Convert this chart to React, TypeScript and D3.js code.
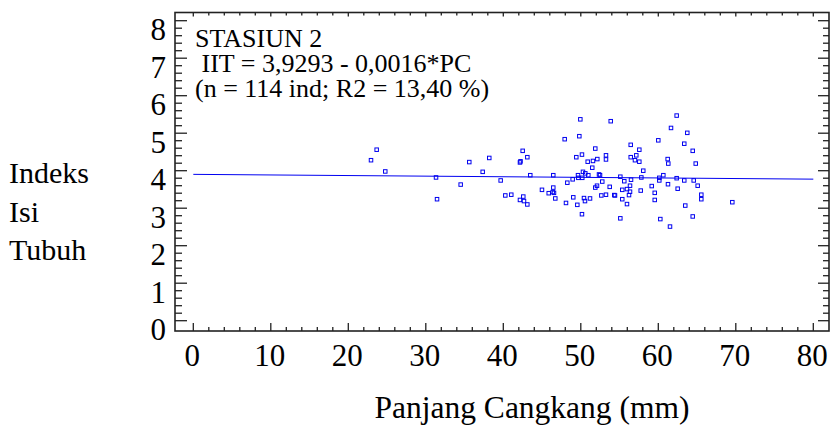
import React from "react";
import * as d3 from "d3";

// Data
const pcValues: number[] = [
  23.66, 22.93, 24.77, 35.61, 31.32, 34.5, 31.45, 38.19, 37.34, 39.66,
  42.5, 43.1, 42.15, 42.22, 43.48, 46.45, 40.26, 41.03, 42.15, 42.58,
  42.67, 43.1, 44.99, 45.86, 46.45, 46.37, 46.54, 46.71, 47.92, 48.26,
  48.09, 49.94, 53.86, 49.81, 51.87, 50.15, 49.42, 50.89, 51.57, 52.13,
  53.25, 53.25, 51.48, 50.28, 50.58, 49.64, 50.19, 49.68, 50.97, 52.35,
  52.48, 48.95, 52.77, 51.87, 52.09, 53.73, 49.03, 49.55, 50.41, 50.54,
  51.19, 52.65, 53.25, 54.32, 54.41, 50.15, 55.1, 55.61, 56.35, 56.48,
  55.35, 55.96, 56.35, 56.22, 55.35, 55.96, 55.1, 56.44, 57.55, 56.44,
  57.16, 56.99, 57.55, 58.06, 57.81, 57.73, 59.15, 59.54, 59.54, 60.0,
  60.13, 60.13, 60.65, 61.21, 61.29, 61.25, 62.37, 61.64, 63.74, 63.35,
  64.44, 64.83, 62.37, 63.35, 64.57, 65.08, 62.5, 65.55, 65.55, 63.48,
  64.44, 60.26, 61.51, 69.55,
];
const iitValues: number[] = [
  4.56, 4.28, 3.98, 4.23, 3.82, 3.63, 3.24, 4.34, 3.97, 3.74,
  4.53, 4.36, 4.22, 4.25, 3.88, 3.88, 3.34, 3.36, 3.22, 3.31,
  3.19, 3.1, 3.49, 3.4, 3.55, 3.43, 3.41, 3.26, 4.84, 3.68,
  3.14, 5.37, 5.32, 4.92, 4.59, 4.43, 4.36, 4.24, 4.26, 4.31,
  4.41, 4.3, 4.08, 3.97, 3.93, 3.88, 3.81, 3.81, 3.88, 3.9,
  3.88, 3.77, 3.71, 3.55, 3.6, 3.57, 3.29, 3.09, 3.27, 3.19,
  3.26, 3.34, 3.36, 3.35, 3.34, 2.84, 3.84, 3.72, 3.6, 3.76,
  3.49, 3.51, 3.44, 3.35, 3.24, 3.11, 2.73, 4.69, 4.56, 4.36,
  4.41, 4.28, 4.24, 4.0, 3.82, 3.47, 3.59, 3.41, 3.22, 4.81,
  3.81, 3.74, 3.88, 4.31, 4.19, 3.64, 5.47, 5.14, 5.01, 4.72,
  4.53, 4.19, 3.8, 3.74, 3.74, 3.6, 3.52, 3.36, 3.24, 3.07,
  2.78, 2.71, 2.51, 3.16,
];
const fitX: number[] = [0, 80];
const fitY: number[] = [3.9293, 3.8013];
const xTicks: number[] = [0, 10, 20, 30, 40, 50, 60, 70, 80];
const yTicks: number[] = [0, 1, 2, 3, 4, 5, 6, 7, 8];
const annotation: string[] = [
  "STASIUN 2",
  " IIT = 3,9293 - 0,0016*PC",
  "(n = 114 ind; R2 = 13,40 %)",
];
const yTitle: string[] = ["Indeks", "Isi", "Tubuh"];
const xTitle = "Panjang Cangkang (mm)";

const W = 830;
const H = 434;
const FONT = "'Liberation Serif', 'Times New Roman', serif";

export default function App() {
  const x = d3.scaleLinear().domain([0, 80]).range([193.3, 813.3]);
  const y = d3.scaleLinear().domain([0, 8]).range([320.7, 20.7]);
  const frame = { left: 175, right: 829, top: 12.5, bottom: 331 };

  const xMinor = d3.range(0, 80.001, 2);
  const yMinor = d3.range(0, 8.001, 0.2);
  const isMajorX = (v: number) => Math.abs(v / 10 - Math.round(v / 10)) < 1e-6;
  const isMajorY = (v: number) => Math.abs(v - Math.round(v)) < 1e-6;

  const line = d3
    .line<number>()
    .x((d) => x(fitX[d]))
    .y((d) => y(fitY[d]) + 1);

  const axisColor = "#222";
  const blue = "#0000f0";

  return (
    <svg
      width={W}
      height={H}
      style={{ position: "absolute", left: 0, top: 0, background: "#fff" }}
      fontFamily={FONT}
    >
      <rect x={0} y={0} width={W} height={H} fill="#fff" />
      {/* frame */}
      <rect
        x={frame.left}
        y={frame.top}
        width={frame.right - frame.left}
        height={frame.bottom - frame.top}
        fill="none"
        stroke={axisColor}
        strokeWidth={1.6}
      />
      {/* bottom & top ticks */}
      {xMinor.map((v, i) => {
        const px = x(v);
        const maj = isMajorX(v);
        return (
          <g key={"xt" + i} stroke={axisColor} strokeWidth={1.3}>
            <line x1={px} x2={px} y1={frame.bottom} y2={frame.bottom - (maj ? 8 : 4)} />
            <line x1={px} x2={px} y1={frame.top} y2={frame.top + (maj ? 4 : 3)} />
          </g>
        );
      })}
      {/* left & right ticks */}
      {yMinor.map((v, i) => {
        const py = y(v);
        const maj = isMajorY(v);
        return (
          <g key={"yt" + i} stroke={axisColor} strokeWidth={1.3}>
            <line x1={frame.left} x2={frame.left + (maj ? 12 : 7)} y1={py} y2={py} />
            <line x1={frame.right} x2={frame.right - (maj ? 11 : 6)} y1={py} y2={py} />
          </g>
        );
      })}
      {/* x tick labels */}
      {xTicks.map((v) => (
        <text key={"xl" + v} x={x(v) - 1} y={366} textAnchor="middle" fontSize={31} fill="#000">
          {v}
        </text>
      ))}
      {/* y tick labels */}
      {yTicks.map((v) => (
        <text key={"yl" + v} x={166} y={y(v) + 19.5} textAnchor="end" fontSize={31} fill="#000">
          {v}
        </text>
      ))}
      {/* fitted line */}
      <path d={line([0, 1]) || ""} fill="none" stroke={blue} strokeWidth={1} />
      {/* points */}
      {pcValues.map((v, i) => (
        <rect
          key={"p" + i}
          x={x(v) - 1.75}
          y={y(iitValues[i]) - 1.75}
          width={3.5}
          height={3.5}
          fill="none"
          stroke={blue}
          strokeWidth={1}
        />
      ))}
      {/* annotation */}
      {annotation.map((t, i) => (
        <text
          key={"a" + i}
          x={195}
          y={46.5 + i * 25}
          fontSize={26}
          fill="#000"
          style={{ whiteSpace: "pre" }}
        >
          {t}
        </text>
      ))}
      {/* y title */}
      {yTitle.map((t, i) => (
        <text key={"ytl" + i} x={9} y={183 + i * 38.5} fontSize={30} fill="#000">
          {t}
        </text>
      ))}
      {/* x title */}
      <text x={532} y={418} textAnchor="middle" fontSize={31.5} fill="#000">
        {xTitle}
      </text>
    </svg>
  );
}
